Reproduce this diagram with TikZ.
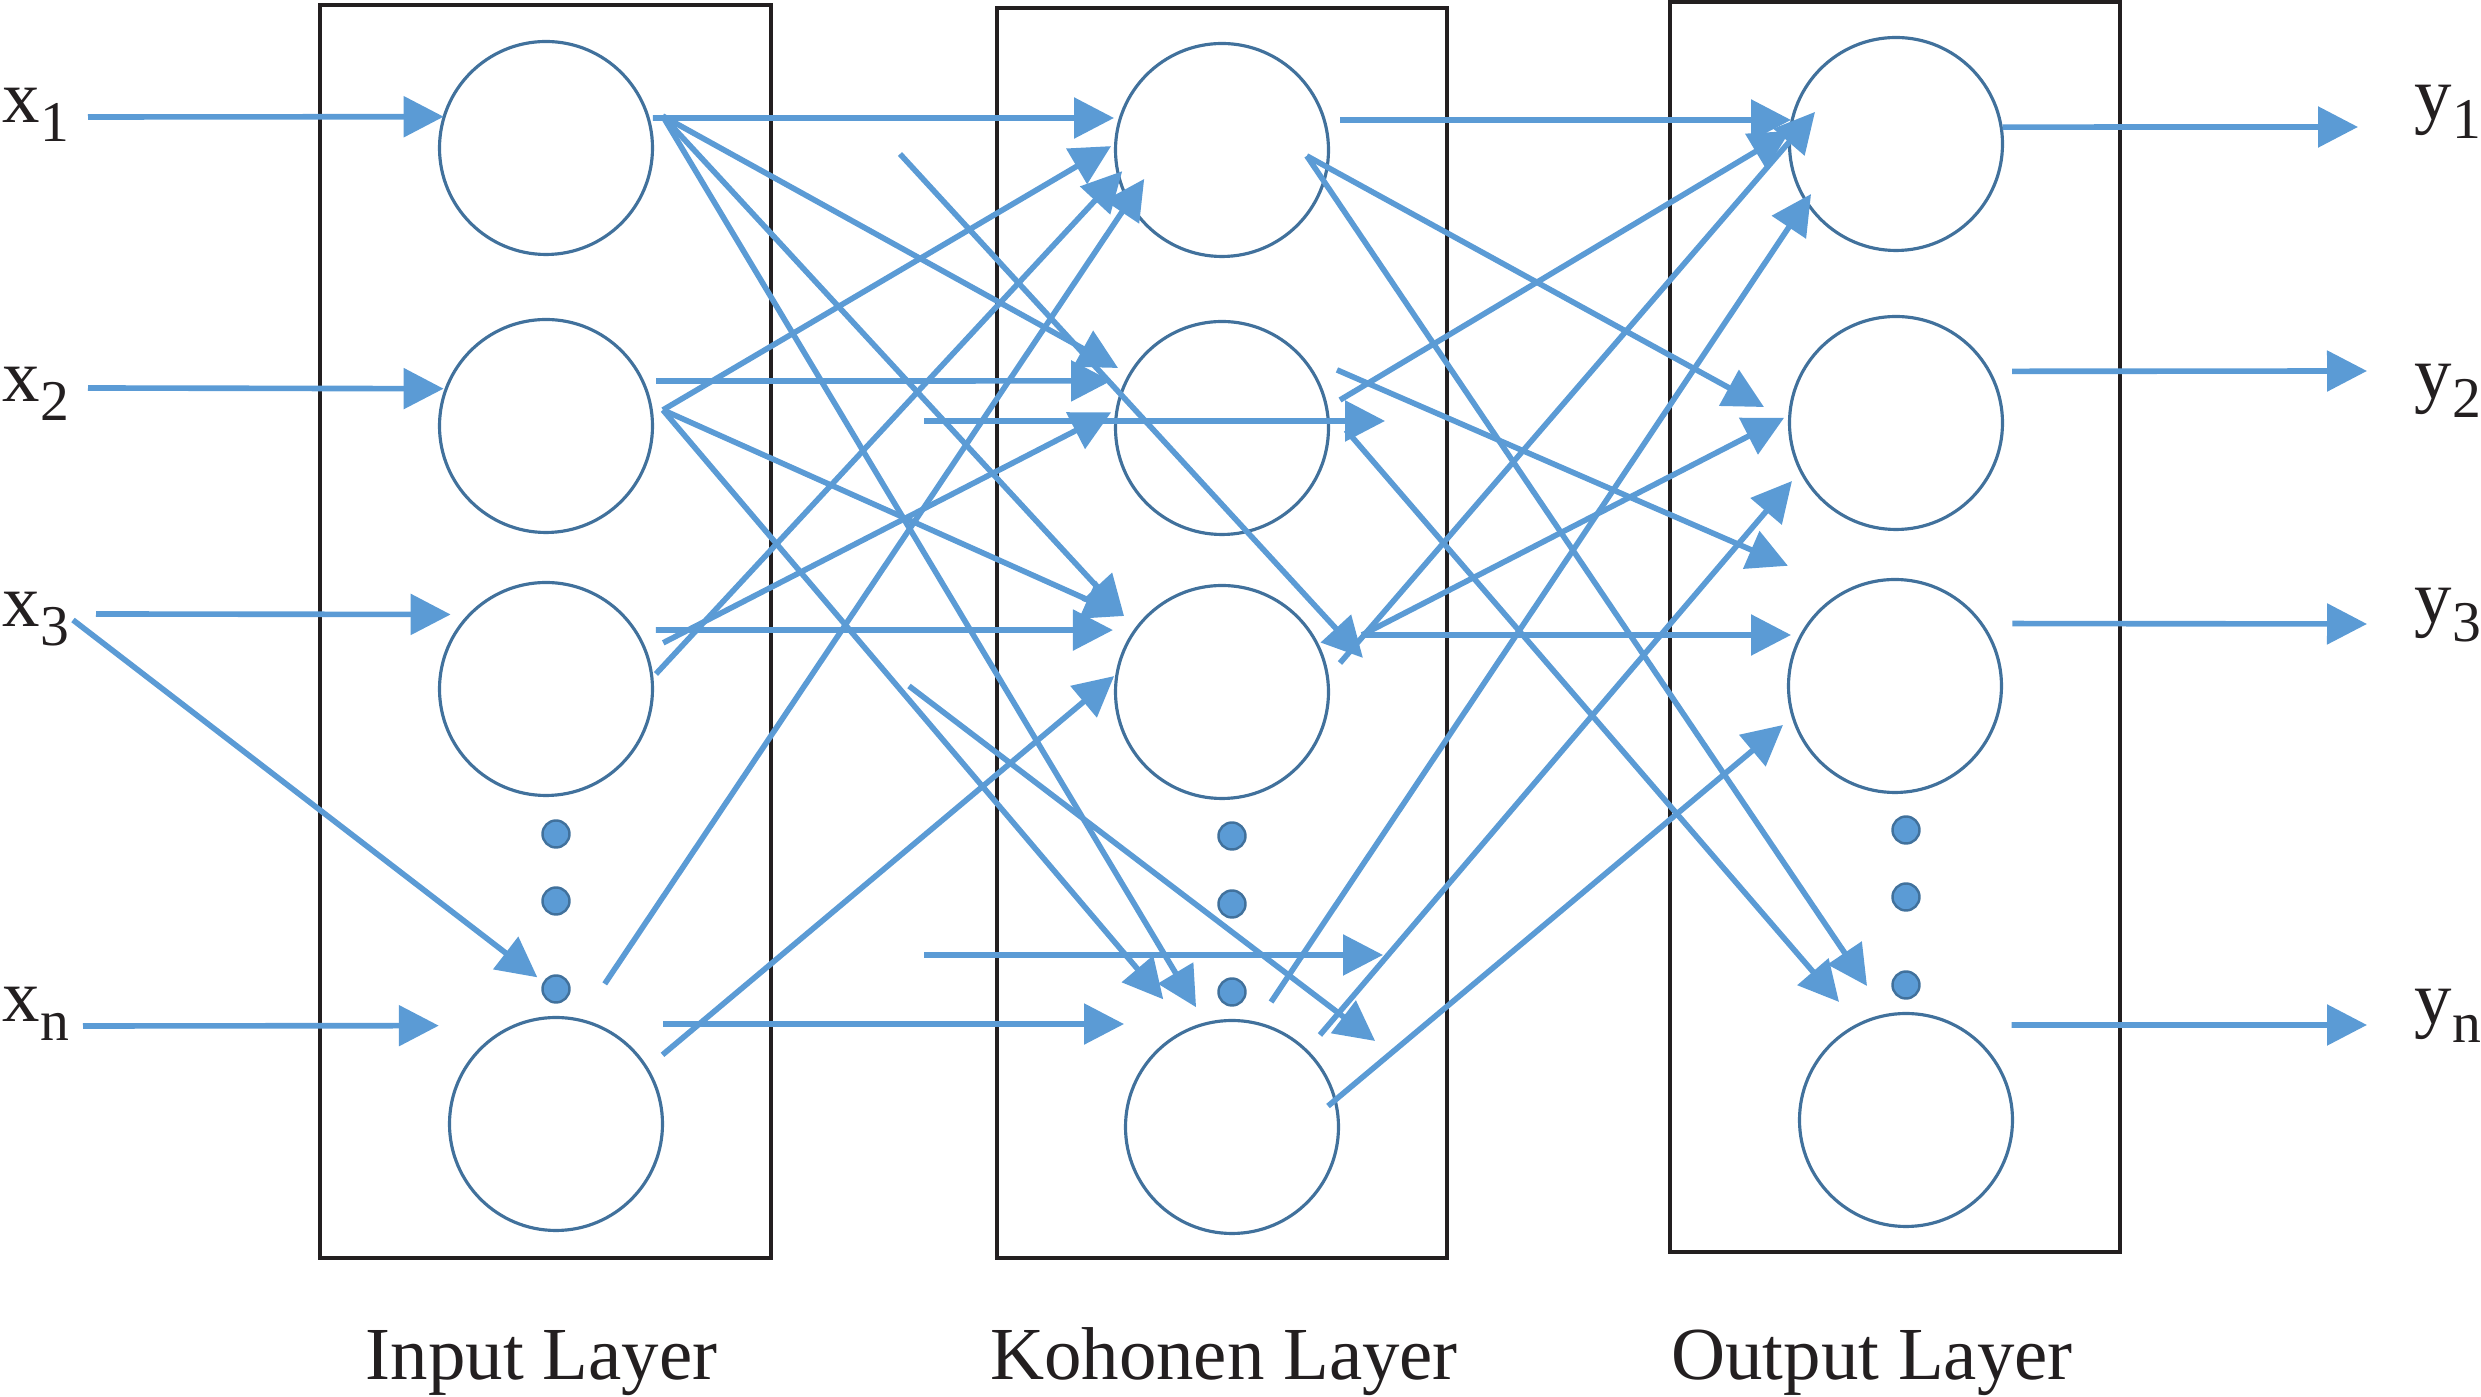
\documentclass[tikz,border=0pt]{standalone}
\usepackage{fontspec}
\setmainfont{Liberation Serif}
\usepackage{tikz}
\usetikzlibrary{calc,arrows.meta}

\definecolor{linkblue}{RGB}{91,155,213}
\definecolor{cellblue}{RGB}{65,113,156}
\definecolor{inkblack}{RGB}{35,31,32}

\newcommand{\lsub}[1]{\raisebox{-1.9mm}{\fontsize{16.4}{16.4}\selectfont #1}}

\tikzset{
  neuron/.style={circle, draw=cellblue, line width=0.9pt, minimum size=2.13cm, inner sep=0pt},
  ldot/.style={circle, draw=cellblue, fill=linkblue, line width=0.7pt, minimum size=0.27cm, inner sep=0pt},
  layer/.style={draw=inkblack, line width=1.1pt},
  link/.style={draw=linkblue, line width=1.6pt, -{Triangle[length=4mm,width=4mm]}},
  lbl/.style={inner sep=0pt, text=inkblack, font=\fontsize{21.3}{25}\selectfont}
}

\begin{document}
\begin{tikzpicture}
      \useasboundingbox (0,0) rectangle (24.81,13.97);

      %% layer boxes
      \draw [layer] (3.20,13.92) rectangle (7.71,1.39);
      \draw [layer] (9.97,13.89) rectangle (14.47,1.39);
      \draw [layer] (16.70,13.95) rectangle (21.20,1.45);

      %% neurons
      \node [neuron] (i1) at (5.46,12.49) {};
      \node [neuron] (i2) at (5.46,9.71) {};
      \node [neuron] (i3) at (5.46,7.08) {};
      \node [neuron] (i4) at (5.56,2.73) {};
      \node [neuron] (k1) at (12.22,12.47) {};
      \node [neuron] (k2) at (12.22,9.69) {};
      \node [neuron] (k3) at (12.22,7.05) {};
      \node [neuron] (k4) at (12.32,2.70) {};
      \node [neuron] (o1) at (18.96,12.53) {};
      \node [neuron] (o2) at (18.96,9.74) {};
      \node [neuron] (o3) at (18.95,7.11) {};
      \node [neuron] (o4) at (19.06,2.77) {};

      %% dots
      \node [ldot] (id1) at (5.56,5.63) {};
      \node [ldot] (id2) at (5.56,4.96) {};
      \node [ldot] (id3) at (5.56,4.08) {};
      \node [ldot] (kd1) at (12.32,5.61) {};
      \node [ldot] (kd2) at (12.32,4.93) {};
      \node [ldot] (kd3) at (12.32,4.05) {};
      \node [ldot] (od1) at (19.06,5.67) {};
      \node [ldot] (od2) at (19.06,5.00) {};
      \node [ldot] (od3) at (19.06,4.12) {};

      %% labels
      \node [lbl, anchor=base west] (x1) at (0.02,12.74) {x\lsub{1}};
      \node [lbl, anchor=base west] (x2) at (0.02,9.95) {x\lsub{2}};
      \node [lbl, anchor=base west] (x3) at (0.02,7.70) {x\lsub{3}};
      \node [lbl, anchor=base west] (xn) at (0.02,3.75) {x\lsub{n}};
      \node [lbl, anchor=base west] (y1) at (24.14,12.77) {y\lsub{1}};
      \node [lbl, anchor=base west] (y2) at (24.14,9.98) {y\lsub{2}};
      \node [lbl, anchor=base west] (y3) at (24.14,7.74) {y\lsub{3}};
      \node [lbl, anchor=base west] (yn) at (24.14,3.73) {y\lsub{n}};
      \node [lbl, anchor=base] (inlayer) at (5.415,0.17) {Input Layer};
      \node [lbl, anchor=base] (kolayer) at (12.24,0.17) {Kohonen Layer};
      \node [lbl, anchor=base] (outlayer) at (18.72,0.17) {Output Layer};

      %% free ends
      \foreach \n/\x/\y in {x1s/0.88/12.80, x2s/0.88/10.09, x3s/0.96/7.83, x3d/0.73/7.77,
          xns/0.83/3.71, y1e/23.58/12.70, y2e/23.67/10.26, y3e/23.67/7.73, yne/23.67/3.72,
          m1s/9.00/12.43, m2s/9.24/9.76, m3s/9.09/7.11, m4s/9.24/4.42}
        \coordinate (\n) at (\x,\y);

      %% inputs
      \draw [link] (x1s) -- ($(i1)+(163:1.07)$);
      \draw [link] (x2s) -- ($(i2)+(160:1.09)$);
      \draw [link] (x3s) -- ($(i3)+(142:1.21)$);
      \draw [link] (x3d) -- ($(id3)+(148:0.22)$);
      \draw [link] (xns) -- ($(i4)+(140:1.53)$);

      %% input -> kohonen
      \draw [link] ($(i1)+(15.7:1.11)$) -- ($(k1)+(163.5:1.126)$);
      \draw [link] ($(i1)+(15.3:1.21)$) -- ($(k2)+(150:1.20)$);
      \draw [link] ($(i1)+(15.3:1.21)$) -- ($(k3)+(142.2:1.24)$);
      \draw [link] ($(i1)+(15.3:1.21)$) -- ($(k4)+(106.7:1.25)$);
      \draw [link] ($(i2)+(7.8:1.18)$) -- ($(k1)+(178:1.11)$);
      \draw [link] ($(i2)+(22.2:1.19)$) -- ($(k2)+(157:1.205)$);
      \draw [link] ($(i2)+(7.8:1.18)$) -- ($(k3)+(142.2:1.24)$);
      \draw [link] ($(i2)+(7.8:1.18)$) -- ($(k4)+(118.3:1.45)$);
      \draw [link] ($(i3)+(28.2:1.248)$) -- ($(k3)+(150.4:1.254)$);
      \draw [link] ($(i3)+(21.5:1.26)$) -- ($(k2)+(172:1.12)$);
      \draw [link] ($(i3)+(7.8:1.11)$) -- ($(k1)+(192:1.02)$);
      \draw [link] ($(id3)+(6:0.49)$) -- ($(k1)+(200.4:0.83)$);
      \draw [link] ($(i4)+(33:1.27)$) -- ($(k3)+(171.6:1.09)$);
      \draw [link] ($(i4)+(43.06:1.465)$) -- ($(k4)+(136.36:1.492)$);
      \draw [link] (m1s) -- ($(k3)+(13.6:1.45)$);
      \draw [link] (m2s) -- ($(k2)+(2.46:1.632)$);
      \draw [link] (m3s) -- ($(k4)+(31:1.67)$);
      \draw [link] (m4s) -- ($(kd3)+(13.77:1.555)$);

      %% kohonen -> output
      \draw [link] ($(k1)+(14.26:1.2175)$) -- ($(o1)+(167.12:1.077)$);
      \draw [link] ($(k1)+(-4:0.85)$) -- ($(o2)+(173.1:1.33)$);
      \draw [link] ($(k1)+(-4:0.85)$) -- ($(od3)+(181.5:0.39)$);
      \draw [link] ($(k2)+(13.35:1.213)$) -- ($(o1)+(173:1.068)$);
      \draw [link] ($(k2)+(26.8:1.288)$) -- ($(o3)+(131.7:1.61)$);
      \draw [link] ($(k2)+(-0.9:1.24)$) -- ($(od3)+(194.2:0.691)$);
      \draw [link] ($(k3)+(22.15:1.512)$) -- ($(o3)+(153.87:1.158)$);
      \draw [link] ($(k3)+(22.15:1.512)$) -- ($(o2)+(177.4:1.121)$);
      \draw [link] ($(k3)+(13.8:1.215)$) -- ($(o1)+(158.4:0.871)$);
      \draw [link] ($(kd3)+(-14.4:0.403)$) -- ($(o1)+(210.5:0.986)$);
      \draw [link] ($(k4)+(46.3:1.273)$) -- ($(o2)+(209.15:1.191)$);
      \draw [link] ($(k4)+(12.3:0.983)$) -- ($(o3)+(199.2:1.186)$);

      %% outputs
      \draw [link] ($(o1)+(9:1.08)$) -- (y1e);
      \draw [link] ($(o2)+(24:1.27)$) -- (y2e);
      \draw [link] ($(o3)+(28:1.33)$) -- (y3e);
      \draw [link] ($(o4)+(42:1.42)$) -- (yne);

\end{tikzpicture}
\end{document}
